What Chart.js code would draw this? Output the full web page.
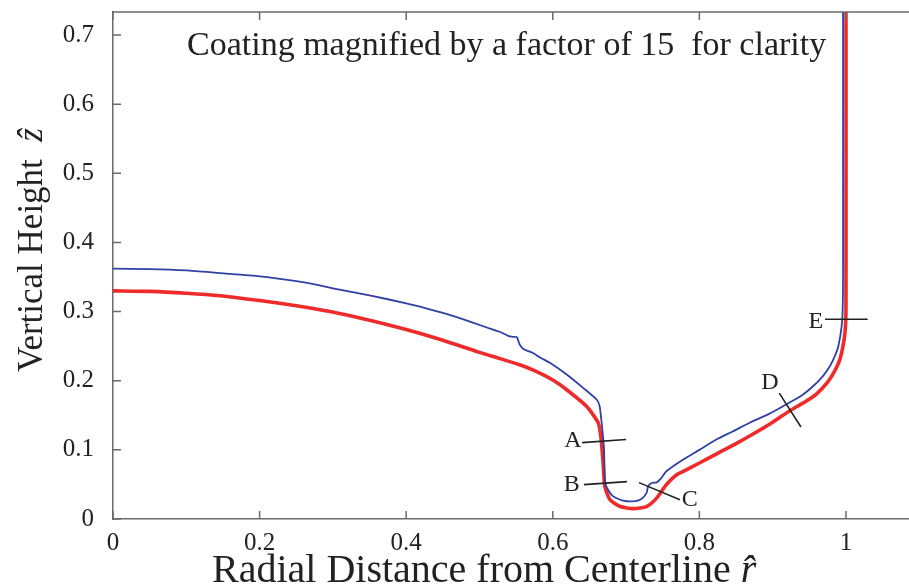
<!DOCTYPE html>
<html>
<head>
<meta charset="utf-8">
<script src="https://cdn.jsdelivr.net/npm/chart.js@4"></script>
<style>
  html, body { margin: 0; padding: 0; background: #fff; }
  #wrap { width: 909px; height: 587px; }
</style>
</head>
<body>
<div id="wrap"><canvas id="profile"></canvas></div>
<script>
// -------------------------------
// DATA
// -------------------------------
// outer surface (coating, magnified) - blue
const blueR = [0, 0.05, 0.10, 0.146, 0.20, 0.25, 0.282, 0.30, 0.35, 0.40, 0.419, 0.45, 0.47, 0.51, 0.528,
    0.539, 0.546, 0.551, 0.555, 0.56, 0.573, 0.582, 0.596, 0.619, 0.641, 0.66, 0.664, 0.668, 0.67,
    0.671, 0.673, 0.682, 0.696, 0.71, 0.721, 0.728, 0.730, 0.735, 0.742, 0.748, 0.755, 0.778, 0.80,
    0.823, 0.846, 0.87, 0.895, 0.919, 0.94, 0.955, 0.968, 0.978, 0.985, 0.9895, 0.994, 0.9955, 0.996, 0.996];
const blueZ = [0.362, 0.3615, 0.3595, 0.3556, 0.351, 0.344, 0.338, 0.3335, 0.3235, 0.312, 0.307, 0.298, 0.2915, 0.277, 0.2705,
    0.265, 0.2635, 0.263, 0.252, 0.246, 0.240, 0.234, 0.226, 0.209, 0.190, 0.1725, 0.163, 0.125, 0.10,
    0.057, 0.047, 0.033, 0.0266, 0.0256, 0.029, 0.0377, 0.047, 0.052, 0.053, 0.059, 0.069, 0.086, 0.10,
    0.115, 0.127, 0.140, 0.152, 0.166, 0.179, 0.192, 0.206, 0.221, 0.236, 0.2496, 0.278, 0.3026, 0.35, 0.76];

// substrate surface - red
const redR = [0, 0.05, 0.10, 0.146, 0.20, 0.25, 0.296, 0.35, 0.40, 0.45, 0.50, 0.528, 0.555, 0.575, 0.60,
    0.619, 0.646, 0.662, 0.666, 0.669, 0.671, 0.678, 0.692, 0.71, 0.728, 0.742, 0.755, 0.769, 0.78,
    0.80, 0.825, 0.85, 0.875, 0.90, 0.924, 0.945, 0.96, 0.975, 0.983, 0.99, 0.994, 0.9986, 1.0, 1.0];
const redZ = [0.330, 0.3292, 0.3266, 0.323, 0.316, 0.3085, 0.300, 0.2875, 0.274, 0.2585, 0.241, 0.232, 0.223, 0.2145, 0.201,
    0.187, 0.163, 0.139, 0.115, 0.076, 0.047, 0.028, 0.018, 0.015, 0.018, 0.0305, 0.0497, 0.064, 0.070,
    0.081, 0.095, 0.109, 0.124, 0.140, 0.157, 0.170, 0.181, 0.198, 0.211, 0.226, 0.24, 0.269, 0.3026, 0.76];

// point markers A..E
const markLabels = ['A', 'B', 'C', 'D', 'E'];
const markStartR = [0.640, 0.6426, 0.7176, 0.909, 0.9714];
const markStartZ = [0.1105, 0.0497, 0.0526, 0.182, 0.289];
const markEndR = [0.700, 0.7012, 0.7735, 0.9386, 1.0296];
const markEndZ = [0.115, 0.054, 0.028, 0.133, 0.289];
const markTextR = [0.6276, 0.626, 0.787, 0.8963, 0.959];
const markTextZ = [0.113, 0.0495, 0.028, 0.197, 0.286];

const xTicks = [0, 0.2, 0.4, 0.6, 0.8, 1];
const xTickLabels = ['0', '0.2', '0.4', '0.6', '0.8', '1'];
const yTicks = [0, 0.1, 0.2, 0.3, 0.4, 0.5, 0.6, 0.7];
const yTickLabels = ['0', '0.1', '0.2', '0.3', '0.4', '0.5', '0.6', '0.7'];

const note = 'Coating magnified by a factor of 15  for clarity';

const SERIF = '"Liberation Serif", "Times New Roman", serif';
const AXIS = '#6b6b6b';
const INK = '#222';

const toPoints = (rs, zs) => rs.map((r, i) => ({ x: r, y: zs[i] }));

const noPad = s => { s.paddingTop = 0; s.paddingBottom = 0; s.paddingLeft = 0; s.paddingRight = 0; };

// axis frame, inward ticks, markers and texts
const overlay = {
    id: 'overlay',
    afterDraw(chart) {
        const { ctx, chartArea: a, scales: { x, y } } = chart;
        ctx.save();

        ctx.strokeStyle = AXIS;
        ctx.lineWidth = 1.5;
        ctx.beginPath();
        ctx.moveTo(a.left, a.top);
        ctx.lineTo(a.right, a.top);
        xTicks.forEach(v => {
            const px = x.getPixelForValue(v);
            ctx.moveTo(px, a.bottom); ctx.lineTo(px, a.bottom - 8);
            ctx.moveTo(px, a.top); ctx.lineTo(px, a.top + 8);
        });
        yTicks.forEach(v => {
            const py = y.getPixelForValue(v);
            ctx.moveTo(a.left, py); ctx.lineTo(a.left + 8, py);
        });
        ctx.stroke();

        // marker segments
        ctx.strokeStyle = INK;
        ctx.lineWidth = 1.6;
        ctx.beginPath();
        markLabels.forEach((m, i) => {
            ctx.moveTo(x.getPixelForValue(markStartR[i]), y.getPixelForValue(markStartZ[i]));
            ctx.lineTo(x.getPixelForValue(markEndR[i]), y.getPixelForValue(markEndZ[i]));
        });
        ctx.stroke();

        ctx.fillStyle = INK;
        ctx.font = '24px ' + SERIF;
        ctx.textAlign = 'center';
        ctx.textBaseline = 'middle';
        markLabels.forEach((m, i) => {
            ctx.fillText(m, x.getPixelForValue(markTextR[i]), y.getPixelForValue(markTextZ[i]));
        });

        // note inside the plot
        ctx.font = '34px ' + SERIF;
        ctx.textBaseline = 'alphabetic';
        ctx.fillText(note, x.getPixelForValue(0.537), y.getPixelForValue(0.671));

        // x title
        ctx.textAlign = 'left';
        ctx.font = '40px ' + SERIF;
        const xt = 'Radial Distance from Centerline ';
        let x0 = 212;
        ctx.fillText(xt, x0, 582);
        x0 += ctx.measureText(xt).width;
        ctx.font = 'italic 40px ' + SERIF;
        ctx.fillText('r\u0302', x0, 582);

        // y title
        ctx.translate(42, 372);
        ctx.rotate(-Math.PI / 2);
        ctx.font = '35px ' + SERIF;
        const yt = 'Vertical Height  ';
        ctx.fillText(yt, 0, 0);
        const w = ctx.measureText(yt).width;
        ctx.font = 'italic 35px ' + SERIF;
        ctx.fillText('\u1E91', w, 0);

        ctx.restore();
    }
};

new Chart(document.getElementById('profile'), {
    type: 'scatter',
    data: {
        datasets: [
            {
                data: toPoints(blueR, blueZ),
                showLine: true,
                borderColor: '#3041a6',
                borderWidth: 1.8,
                pointRadius: 0,
                tension: 0.2
            },
            {
                data: toPoints(redR, redZ),
                showLine: true,
                borderColor: '#ef2a2a',
                borderWidth: 3.6,
                pointRadius: 0,
                tension: 0.2
            }
        ]
    },
    options: {
        responsive: true,
        maintainAspectRatio: false,
        animation: false,
        layout: { padding: { left: 0, right: 0, top: 12, bottom: 0 } },
        plugins: {
            legend: { display: false },
            tooltip: { enabled: false }
        },
        scales: {
            x: {
                type: 'linear',
                min: 0,
                max: 1.086,
                afterBuildTicks: s => { s.ticks = xTicks.map(v => ({ value: v })); },
                afterFit: s => { s.height = 68; noPad(s); },
                grid: { display: false },
                border: { color: AXIS, width: 1.5 },
                ticks: {
                    padding: 1,
                    color: INK,
                    font: { family: SERIF, size: 25 },
                    maxRotation: 0,
                    callback: (v, i) => xTickLabels[i]
                }
            },
            y: {
                type: 'linear',
                min: 0,
                max: 0.7333,
                afterBuildTicks: s => { s.ticks = yTicks.map(v => ({ value: v })); },
                afterFit: s => { s.width = 113; noPad(s); },
                grid: { display: false },
                border: { color: AXIS, width: 1.5 },
                ticks: {
                    padding: 11,
                    color: INK,
                    font: { family: SERIF, size: 25 },
                    callback: (v, i) => yTickLabels[i]
                }
            }
        }
    },
    plugins: [overlay]
});
</script>
</body>
</html>
